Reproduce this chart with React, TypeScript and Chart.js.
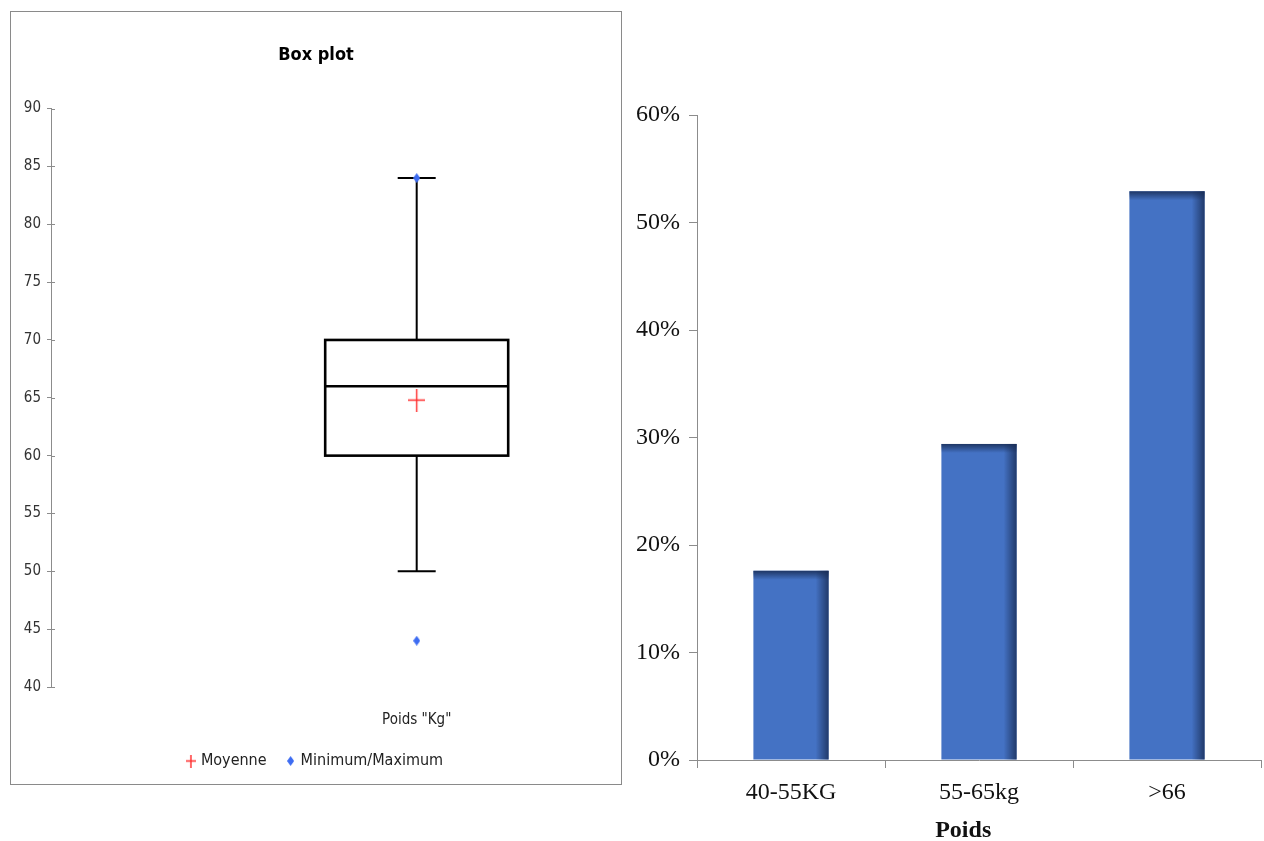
import { useEffect, useRef } from "react";
import { Chart, registerables } from "chart.js";

Chart.register(...registerables);

// ---- Box plot: body weight (kg) ----
const boxCategory = 'Poids "Kg"';
const boxQ1 = [60];
const boxMedian = [66];
const boxQ3 = [70];
const whiskerLow = [50];
const whiskerHigh = [84];
const meanValues = [64.8];
const minMaxValues = [44, 84];
const kgTickMin = 40;
const kgTickMax = 90;
const kgTickStep = 5;

// ---- Bar chart: share of patients per weight class ----
const weightClasses = ["40-55KG", "55-65kg", ">66"];
const weightShares = [17.6, 29.4, 52.9];
const shareTickMax = 60;
const shareTickStep = 10;

const NARROW = "'Liberation Sans Narrow', 'DejaVu Sans Condensed', Arial, sans-serif";
const SERIF = "'Liberation Serif', 'Times New Roman', serif";
const AXIS_GREY = "#8c8c8c";

function makeCross(w: number, h: number, color: string, lw: number) {
  const c = document.createElement("canvas");
  c.width = w;
  c.height = h;
  const g = c.getContext("2d")!;
  g.strokeStyle = color;
  g.lineWidth = lw;
  g.beginPath();
  g.moveTo(w / 2, 0);
  g.lineTo(w / 2, h);
  g.moveTo(0, h / 2);
  g.lineTo(w, h / 2);
  g.stroke();
  return c;
}

function makeDiamond(w: number, h: number, color: string) {
  const c = document.createElement("canvas");
  c.width = w;
  c.height = h;
  const g = c.getContext("2d")!;
  g.fillStyle = color;
  g.beginPath();
  g.moveTo(w / 2, 0);
  g.lineTo(w, h / 2);
  g.lineTo(w / 2, h);
  g.lineTo(0, h / 2);
  g.closePath();
  g.fill();
  return c;
}

// Draws the box, median and whiskers from the quartile arrays, plus
// tick marks that cross the y axis line.
const boxPlotPlugin = {
  id: "boxPlot",
  beforeDatasetsDraw(chart: any) {
    const { ctx, scales } = chart;
    const x = scales.x;
    const y = scales.y;
    const halfBox = 91.5;
    const halfCap = 19;
    boxQ1.forEach((q1, i) => {
      const cx = x.getPixelForValue(i + 1);
      const yQ1 = y.getPixelForValue(q1);
      const yQ3 = y.getPixelForValue(boxQ3[i]);
      const yMed = y.getPixelForValue(boxMedian[i]);
      const yLo = y.getPixelForValue(whiskerLow[i]);
      const yHi = y.getPixelForValue(whiskerHigh[i]);
      ctx.save();
      ctx.strokeStyle = "#000";
      ctx.lineWidth = 2;
      ctx.beginPath();
      ctx.moveTo(cx, yQ3);
      ctx.lineTo(cx, yHi);
      ctx.moveTo(cx - halfCap, yHi);
      ctx.lineTo(cx + halfCap, yHi);
      ctx.moveTo(cx, yQ1);
      ctx.lineTo(cx, yLo);
      ctx.moveTo(cx - halfCap, yLo);
      ctx.lineTo(cx + halfCap, yLo);
      ctx.stroke();
      ctx.lineWidth = 2.6;
      ctx.strokeRect(cx - halfBox, yQ3, halfBox * 2, yQ1 - yQ3);
      ctx.beginPath();
      ctx.moveTo(cx - halfBox, yMed);
      ctx.lineTo(cx + halfBox, yMed);
      ctx.stroke();
      ctx.restore();
    });
  },
  afterDraw(chart: any) {
    const { ctx, scales } = chart;
    const y = scales.y;
    ctx.save();
    ctx.strokeStyle = AXIS_GREY;
    ctx.lineWidth = 1;
    y.ticks.forEach((t: any) => {
      const py = Math.round(y.getPixelForValue(t.value)) + 0.5;
      ctx.beginPath();
      ctx.moveTo(y.right, py);
      ctx.lineTo(y.right + 4, py);
      ctx.stroke();
    });
    ctx.restore();
  },
};

// Darker bevel along the top and right edges of each bar, and the x axis caption.
const barShadePlugin = {
  id: "barShade",
  afterDatasetsDraw(chart: any) {
    const { ctx } = chart;
    const meta = chart.getDatasetMeta(0);
    meta.data.forEach((bar: any) => {
      const { x, y, base, width } = bar.getProps(["x", "y", "base", "width"], true);
      const left = x - width / 2;
      const right = x + width / 2;
      ctx.save();
      const gR = ctx.createLinearGradient(right - 13, 0, right, 0);
      gR.addColorStop(0, "rgba(24,44,84,0)");
      gR.addColorStop(1, "rgba(24,44,84,0.8)");
      ctx.fillStyle = gR;
      ctx.fillRect(right - 13, y, 13, base - y);
      const gT = ctx.createLinearGradient(0, y, 0, y + 9);
      gT.addColorStop(0, "rgba(24,44,84,0.85)");
      gT.addColorStop(1, "rgba(24,44,84,0)");
      ctx.fillStyle = gT;
      ctx.fillRect(left, y, width, 9);
      ctx.restore();
    });
  },
  afterDraw(chart: any) {
    const { ctx, chartArea } = chart;
    ctx.save();
    ctx.font = `bold 24px ${SERIF}`;
    ctx.fillStyle = "#111";
    ctx.textAlign = "center";
    ctx.textBaseline = "middle";
    const cx = chartArea.left + (chartArea.right - chartArea.left) * 0.472;
    ctx.fillText("Poids", cx, chartArea.bottom + 71);
    ctx.restore();
  },
};

function BoxPlotChart() {
  const ref = useRef<HTMLCanvasElement>(null);
  useEffect(() => {
    if (!ref.current) return;
    const meanMarker = makeCross(17, 23, "#ff2a2a", 1.4);
    const minMaxMarker = makeDiamond(7, 10, "#3d6cf2");
    const meanLegend = makeCross(10, 13, "#ff2a2a", 1.4);
    const minMaxLegend = makeDiamond(7, 10, "#3d6cf2");
    const chart = new Chart(ref.current, {
      type: "scatter",
      data: {
        datasets: [
          {
            label: "Moyenne",
            data: meanValues.map((v, i) => ({ x: i + 1, y: v })),
            pointStyle: meanMarker as any,
            borderColor: "#ff2a2a",
            backgroundColor: "#ff2a2a",
          },
          {
            label: "Minimum/Maximum",
            data: minMaxValues.map((v) => ({ x: 1, y: v })),
            pointStyle: minMaxMarker as any,
            borderColor: "#3d6cf2",
            backgroundColor: "#3d6cf2",
          },
        ],
      },
      options: {
        animation: false,
        responsive: true,
        maintainAspectRatio: false,
        layout: { padding: { left: 0, right: 0, top: 0, bottom: 5 } },
        plugins: {
          title: {
            display: true,
            text: "Box plot",
            color: "#000",
            font: { family: NARROW, size: 18, weight: "bold" },
            padding: { top: 33, bottom: 42 },
          },
          legend: {
            position: "bottom",
            labels: {
              usePointStyle: true,
              boxWidth: 4,
              boxHeight: 8,
              padding: 22,
              color: "#222",
              font: { family: NARROW, size: 16 },
              generateLabels: (c: any) => {
                const items = Chart.defaults.plugins.legend.labels.generateLabels(c);
                return items.map((it: any, i: number) => ({
                  ...it,
                  pointStyle: i === 0 ? meanLegend : minMaxLegend,
                }));
              },
            },
          },
          tooltip: { enabled: false },
        },
        scales: {
          x: {
            type: "linear",
            min: 0,
            max: 1.545,
            afterBuildTicks: (s: any) => {
              s.ticks = [{ value: 1 }];
            },
            afterFit: (s: any) => {
              s.height = 44;
            },
            ticks: {
              callback: () => boxCategory,
              color: "#222",
              padding: 16,
              font: { family: NARROW, size: 15 },
              maxRotation: 0,
            },
            grid: { display: false },
            border: { display: false },
          },
          y: {
            min: kgTickMin,
            max: kgTickMax,
            afterFit: (s: any) => {
              s.width = 40;
            },
            ticks: {
              stepSize: kgTickStep,
              color: "#333",
              padding: 6,
              font: { family: NARROW, size: 15 },
            },
            grid: {
              drawOnChartArea: false,
              tickLength: 4,
              color: AXIS_GREY,
            },
            border: { color: AXIS_GREY },
          },
        },
      },
      plugins: [boxPlotPlugin],
    } as any);
    return () => chart.destroy();
  }, []);
  return <canvas ref={ref} />;
}

function WeightBarChart() {
  const ref = useRef<HTMLCanvasElement>(null);
  useEffect(() => {
    if (!ref.current) return;
    const chart = new Chart(ref.current, {
      type: "bar",
      data: {
        labels: weightClasses,
        datasets: [
          {
            label: "Poids",
            data: weightShares,
            backgroundColor: "#4472c4",
            borderWidth: 0,
            categoryPercentage: 1,
            barPercentage: 0.4,
          },
        ],
      },
      options: {
        animation: false,
        responsive: true,
        maintainAspectRatio: false,
        layout: { padding: { left: 0, right: 3, top: 15, bottom: 0 } },
        plugins: {
          legend: { display: false },
          tooltip: { enabled: false },
        },
        scales: {
          x: {
            afterFit: (s: any) => {
              s.height = 81;
            },
            ticks: {
              color: "#111",
              padding: 10,
              font: { family: SERIF, size: 24 },
              maxRotation: 0,
            },
            grid: {
              offset: true,
              drawOnChartArea: false,
              tickLength: 8,
              color: AXIS_GREY,
            },
            border: { color: AXIS_GREY },
          },
          y: {
            min: 0,
            max: shareTickMax,
            afterFit: (s: any) => {
              s.width = 72;
              s.paddingTop = 0;
              s.paddingBottom = 0;
            },
            ticks: {
              stepSize: shareTickStep,
              callback: (v: any) => `${v}%`,
              color: "#111",
              padding: 9,
              font: { family: SERIF, size: 24 },
            },
            grid: {
              drawOnChartArea: false,
              tickLength: 8,
              color: AXIS_GREY,
            },
            border: { color: AXIS_GREY },
          },
        },
      },
      plugins: [barShadePlugin],
    } as any);
    return () => chart.destroy();
  }, []);
  return <canvas ref={ref} />;
}

export default function App() {
  return (
    <div>
      <div
        style={{
          position: "absolute",
          left: 10,
          top: 11,
          width: 612,
          height: 774,
          boxSizing: "border-box",
          border: "1px solid #8a8a8a",
          background: "#fff",
        }}
      >
        <div style={{ position: "relative", width: 610, height: 772 }}>
          <BoxPlotChart />
        </div>
      </div>
      <div style={{ position: "absolute", left: 625, top: 100, width: 639, height: 741 }}>
        <WeightBarChart />
      </div>
    </div>
  );
}
